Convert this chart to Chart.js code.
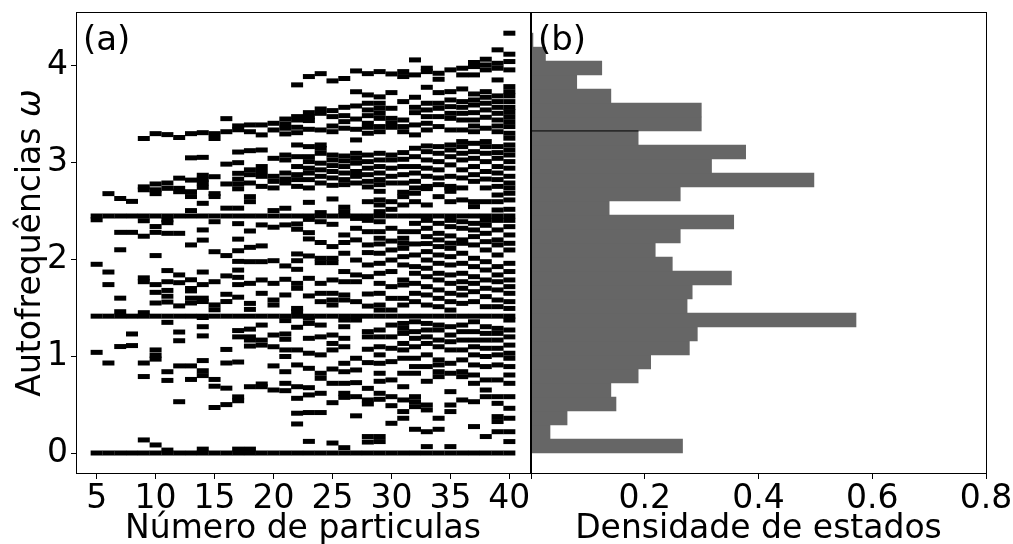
<!DOCTYPE html>
<html><head><meta charset="utf-8">
<script src="https://cdn.jsdelivr.net/npm/chart.js@4.4.1/dist/chart.umd.min.js"></script>
<style>
html,body{margin:0;padding:0;background:#fff;overflow:hidden;}
#wrap{position:relative;width:1013px;height:544px;background:#fff;}
canvas{position:absolute;left:0;top:0;}
</style></head><body>
<div id="wrap"><canvas id="ca" width="1013" height="544"></canvas><canvas id="cb" width="1013" height="544"></canvas></div>
<script>
// ---- Panel (a): eigenfrequencies for each particle number ----
const particleCounts = [5,6,7,8,9,10,11,12,13,14,15,16,17,18,19,20,21,22,23,24,25,26,27,28,29,30,31,32,33,34,35,36,37,38,39,40];
const omega05 = [0, 1.04, 1.414, 1.95, 2.41, 2.449];
const omega06 = [0, 0.93, 1.414, 1.74, 1.87, 2.449, 2.68];
const omega07 = [0, 1.10, 1.414, 1.46, 1.60, 2.10, 2.28, 2.449, 2.63];
const omega08 = [0, 1.11, 1.23, 1.414, 2.28, 2.449, 2.60];
const omega09 = [0, 0.135, 0.79, 0.93, 1.414, 1.45, 1.77, 1.81, 2.24, 2.40, 2.449, 2.72, 2.75, 3.25];
const omega10 = [0, 0.083, 0.97, 1.01, 1.065, 1.414, 1.55, 1.66, 1.74, 2.04, 2.28, 2.34, 2.449, 2.68, 2.72, 2.78, 3.30];
const omega11 = [0, 0.03, 0.75, 0.84, 1.35, 1.414, 1.56, 1.62, 1.68, 1.77, 1.885, 2.27, 2.38, 2.41, 2.449, 2.735, 2.79, 3.29];
const omega12 = [0, 0.53, 0.90, 1.16, 1.25, 1.414, 1.52, 1.76, 1.84, 2.27, 2.449, 2.70, 2.735, 2.84, 3.26];
const omega13 = [0, 0.76, 0.90, 1.414, 1.55, 1.60, 1.675, 1.70, 1.79, 2.15, 2.449, 2.505, 2.65, 2.70, 2.82, 3.05, 3.30];
const omega14 = [0, 0.04, 0.80, 0.85, 0.955, 1.21, 1.305, 1.40, 1.414, 1.565, 1.60, 1.74, 1.87, 2.20, 2.305, 2.449, 2.58, 2.745, 2.79, 2.83, 2.87, 3.055, 3.31];
const omega15 = [0, 0.47, 0.69, 0.76, 1.414, 1.48, 1.53, 1.77, 2.08, 2.39, 2.449, 2.65, 2.68, 2.855, 3.25, 3.30];
const omega16 = [0, 0.50, 0.67, 0.93, 1.07, 1.414, 1.565, 1.64, 1.83, 2.04, 2.449, 2.53, 2.78, 2.985, 3.32, 3.455];
const omega17 = [0, 0.04, 0.54, 0.58, 0.94, 1.20, 1.265, 1.414, 1.61, 1.74, 1.815, 1.89, 1.98, 2.09, 2.21, 2.37, 2.449, 2.53, 2.73, 2.78, 2.83, 2.89, 3.00, 3.11, 3.34, 3.38];
const omega18 = [0, 0.04, 0.685, 1.105, 1.167, 1.20, 1.28, 1.414, 1.484, 1.546, 1.753, 1.977, 2.125, 2.294, 2.449, 2.597, 2.649, 2.79, 2.876, 2.926, 3.124, 3.32, 3.39];
const omega19 = [0, 0.685, 0.713, 1.115, 1.167, 1.322, 1.414, 1.65, 1.788, 1.977, 2.14, 2.357, 2.449, 2.755, 2.859, 2.909, 2.96, 3.131, 3.287, 3.39];
const omega20 = [0, 0.651, 0.90, 1.098, 1.219, 1.414, 1.529, 1.581, 1.753, 1.987, 2.333, 2.449, 2.505, 2.739, 2.807, 2.859, 3.045, 3.338, 3.407];
const omega21 = [0, 0.644, 0.72, 0.84, 0.997, 1.065, 1.175, 1.23, 1.368, 1.414, 1.633, 1.795, 1.933, 2.357, 2.449, 2.529, 2.79, 2.831, 2.893, 3.028, 3.079, 3.297, 3.356, 3.40, 3.451];
const omega22 = [0, 0.30, 0.411, 0.565, 0.685, 0.91, 1.065, 1.299, 1.414, 1.46, 1.494, 1.702, 1.753, 1.898, 1.987, 2.057, 2.312, 2.367, 2.449, 2.755, 2.825, 2.876, 2.96, 3.062, 3.183, 3.31, 3.366, 3.441, 3.476, 3.804];
const omega23 = [0, 0.12, 0.418, 0.60, 0.675, 0.875, 1.031, 1.185, 1.339, 1.393, 1.414, 1.623, 1.805, 2.036, 2.212, 2.277, 2.414, 2.449, 2.59, 2.739, 2.825, 2.893, 2.943, 3.011, 3.062, 3.166, 3.345, 3.435, 3.476, 3.517, 3.89];
const omega24 = [0, 0.418, 0.617, 0.772, 0.824, 1.014, 1.20, 1.322, 1.414, 1.564, 1.65, 1.753, 1.967, 2.012, 2.175, 2.39, 2.449, 2.484, 2.79, 2.859, 2.926, 2.995, 3.097, 3.148, 3.183, 3.338, 3.51, 3.555, 3.92];
const omega25 = [0, 0.103, 0.52, 0.72, 0.868, 1.065, 1.132, 1.219, 1.414, 1.529, 1.581, 1.65, 1.788, 1.967, 2.012, 2.133, 2.363, 2.449, 2.625, 2.766, 2.842, 2.909, 2.97, 3.028, 3.079, 3.32, 3.379, 3.476, 3.538, 3.845];
const omega26 = [0, 0.055, 0.575, 0.617, 0.72, 0.84, 0.927, 1.098, 1.185, 1.305, 1.374, 1.414, 1.581, 1.633, 1.77, 1.875, 2.064, 2.175, 2.253, 2.449, 2.494, 2.54, 2.773, 2.825, 2.893, 2.96, 3.018, 3.069, 3.356, 3.424, 3.486, 3.572, 3.87];
const omega27 = [0, 0.384, 0.582, 0.727, 0.858, 0.979, 1.374, 1.414, 1.564, 1.77, 1.84, 1.994, 2.202, 2.322, 2.424, 2.449, 2.79, 2.859, 2.909, 2.995, 3.045, 3.097, 3.235, 3.345, 3.451, 3.586, 3.733, 3.948];
const omega28 = [0, 0.113, 0.17, 0.507, 0.548, 0.668, 0.934, 1.072, 1.20, 1.254, 1.414, 1.518, 1.643, 1.822, 1.943, 2.071, 2.15, 2.287, 2.404, 2.449, 2.597, 2.749, 2.807, 2.876, 2.943, 3.011, 3.079, 3.304, 3.366, 3.407, 3.486, 3.545, 3.614, 3.70, 3.92];
const omega29 = [0, 0.118, 0.17, 0.555, 0.617, 0.741, 0.824, 0.927, 1.014, 1.098, 1.20, 1.271, 1.414, 1.477, 1.529, 1.65, 1.753, 1.857, 1.96, 2.064, 2.16, 2.219, 2.287, 2.39, 2.449, 2.494, 2.563, 2.615, 2.704, 2.773, 2.825, 2.893, 2.96, 3.028, 3.097, 3.32, 3.373, 3.458, 3.51, 3.562, 3.614, 3.68, 3.941];
const omega30 = [0, 0.307, 0.489, 0.582, 0.755, 0.944, 1.082, 1.20, 1.322, 1.414, 1.477, 1.598, 1.719, 1.875, 1.994, 2.098, 2.19, 2.322, 2.449, 2.518, 2.597, 2.79, 2.859, 2.943, 3.028, 3.079, 3.366, 3.407, 3.458, 3.562, 3.724, 3.917];
const omega31 = [0, 0.359, 0.428, 0.548, 0.685, 0.824, 0.979, 1.065, 1.132, 1.236, 1.288, 1.339, 1.414, 1.529, 1.598, 1.736, 1.788, 1.943, 2.029, 2.115, 2.167, 2.219, 2.287, 2.449, 2.563, 2.649, 2.694, 2.79, 2.876, 2.96, 3.035, 3.104, 3.32, 3.373, 3.441, 3.631, 3.89, 3.941];
const omega32 = [0, 0.245, 0.479, 0.53, 0.582, 0.824, 0.893, 0.979, 1.098, 1.185, 1.254, 1.356, 1.414, 1.564, 1.65, 1.753, 1.857, 1.926, 2.046, 2.16, 2.287, 2.373, 2.449, 2.597, 2.684, 2.739, 2.807, 2.893, 2.96, 3.062, 3.149, 3.287, 3.39, 3.517, 3.572, 3.676, 3.907, 4.062];
const omega33 = [0, 0.066, 0.22, 0.445, 0.496, 0.741, 0.893, 1.014, 1.132, 1.20, 1.271, 1.339, 1.414, 1.529, 1.633, 1.719, 1.822, 1.909, 1.994, 2.081, 2.164, 2.236, 2.322, 2.404, 2.449, 2.563, 2.732, 2.755, 2.859, 2.943, 3.028, 3.114, 3.173, 3.338, 3.407, 3.476, 3.545, 3.614, 3.779, 3.941, 3.976];
const omega34 = [0, 0.245, 0.359, 0.789, 0.84, 0.91, 0.962, 1.098, 1.167, 1.271, 1.322, 1.414, 1.512, 1.598, 1.685, 1.788, 1.857, 1.96, 2.046, 2.133, 2.202, 2.27, 2.373, 2.449, 2.649, 2.773, 2.842, 2.926, 3.011, 3.097, 3.166, 3.373, 3.476, 3.562, 3.614, 3.724, 3.862, 3.924];
const omega35 = [0, 0.066, 0.428, 0.496, 0.634, 0.824, 0.927, 1.065, 1.15, 1.219, 1.305, 1.414, 1.477, 1.564, 1.65, 1.753, 1.84, 1.943, 2.029, 2.115, 2.168, 2.243, 2.339, 2.404, 2.449, 2.597, 2.704, 2.739, 2.755, 2.859, 2.977, 3.062, 3.131, 3.183, 3.338, 3.458, 3.51, 3.579, 3.648, 3.734, 3.959];
const omega36 = [0, 0.548, 0.789, 0.84, 0.962, 1.065, 1.167, 1.254, 1.322, 1.414, 1.546, 1.633, 1.702, 1.77, 1.857, 1.96, 2.064, 2.167, 2.202, 2.322, 2.39, 2.449, 2.615, 2.739, 2.842, 2.926, 3.028, 3.097, 3.166, 3.218, 3.338, 3.441, 3.51, 3.572, 3.631, 3.762, 3.907, 3.976];
const omega37 = [0, 0.273, 0.53, 0.72, 0.806, 0.91, 1.014, 1.098, 1.167, 1.254, 1.356, 1.414, 1.564, 1.667, 1.753, 1.822, 1.926, 2.012, 2.15, 2.236, 2.305, 2.373, 2.449, 2.546, 2.597, 2.807, 2.876, 2.96, 3.045, 3.114, 3.20, 3.32, 3.379, 3.441, 3.517, 3.596, 3.648, 3.71, 3.907, 3.993, 4.035];
const omega38 = [0, 0.17, 0.582, 0.651, 0.755, 0.893, 0.997, 1.082, 1.167, 1.236, 1.305, 1.414, 1.512, 1.616, 1.702, 1.788, 1.891, 1.977, 2.098, 2.184, 2.27, 2.353, 2.404, 2.449, 2.597, 2.739, 2.831, 2.909, 3.011, 3.097, 3.166, 3.218, 3.356, 3.469, 3.545, 3.614, 3.676, 3.734, 3.959, 4.01, 4.069];
const omega39 = [0, 0.22, 0.325, 0.376, 0.513, 0.582, 0.755, 0.91, 1.014, 1.082, 1.167, 1.236, 1.288, 1.414, 1.512, 1.581, 1.685, 1.77, 1.84, 1.926, 2.046, 2.15, 2.202, 2.305, 2.404, 2.449, 2.511, 2.597, 2.666, 2.755, 2.825, 2.893, 2.96, 3.045, 3.104, 3.166, 3.32, 3.379, 3.441, 3.51, 3.572, 3.631, 3.69, 3.855, 3.976, 4.027, 4.166];
const omega40 = [0, 0.118, 0.22, 0.359, 0.462, 0.582, 0.72, 0.806, 0.893, 0.979, 1.031, 1.115, 1.20, 1.271, 1.374, 1.414, 1.494, 1.564, 1.65, 1.719, 1.788, 1.875, 1.96, 2.098, 2.167, 2.253, 2.339, 2.404, 2.449, 2.518, 2.615, 2.684, 2.739, 2.79, 2.859, 2.943, 3.011, 3.079, 3.131, 3.183, 3.253, 3.304, 3.373, 3.424, 3.476, 3.527, 3.572, 3.631, 3.69, 3.734, 3.786, 3.959, 4.045, 4.121, 4.338];
const omegaColumns = [omega05, omega06, omega07, omega08, omega09, omega10, omega11, omega12, omega13, omega14, omega15, omega16, omega17, omega18, omega19, omega20, omega21, omega22, omega23, omega24, omega25, omega26, omega27, omega28, omega29, omega30, omega31, omega32, omega33, omega34, omega35, omega36, omega37, omega38, omega39, omega40];
const xTicksA = [5, 10, 15, 20, 25, 30, 35, 40];
const yTicks = [0, 1, 2, 3, 4];

// ---- Panel (b): density of states histogram ----
const dosOmega = [0.0723, 0.2170, 0.3617, 0.5063, 0.6510, 0.7957, 0.9403, 1.0850, 1.2297, 1.3743, 1.5190, 1.6637, 1.8083, 1.9530, 2.0977, 2.2423, 2.3870, 2.5317, 2.6763, 2.8210, 2.9657, 3.1103, 3.2550, 3.3997, 3.5443, 3.6890, 3.8337, 3.9783, 4.1230, 4.2677];
const dosValue = [0.267, 0.034, 0.064, 0.150, 0.141, 0.189, 0.211, 0.279, 0.293, 0.572, 0.275, 0.284, 0.353, 0.249, 0.219, 0.263, 0.357, 0.138, 0.263, 0.498, 0.318, 0.378, 0.189, 0.300, 0.300, 0.141, 0.081, 0.125, 0.026, 0.004];
const dosMarkX = [0, 0.189];
const dosMarkY = [3.328, 3.328];
const xTicksB = [0, 0.2, 0.4, 0.6, 0.8];

const xLabelA = 'Número de particulas';
const xLabelB = 'Densidade de estados';
const yLabelText = 'Autofrequências ';
const yLabelSymbol = 'ω';

const FAM = '"DejaVu Sans", sans-serif';
const FS = 33;

const points = [];
particleCounts.forEach((n, i) => omegaColumns[i].forEach(w => points.push({x: n, y: w})));

const frame = {
  id: 'frame',
  afterDraw(chart) {
    const {ctx, chartArea: a} = chart;
    ctx.save();
    ctx.strokeStyle = '#000';
    ctx.lineWidth = 1;
    ctx.strokeRect(a.left + 0.5, a.top + 0.5, a.right - a.left, a.bottom - a.top - 1);
    ctx.restore();
  }
};
function panelLabel(text, dx) {
  return {
    id: 'plabel',
    afterDraw(chart) {
      const {ctx, chartArea: a} = chart;
      ctx.save();
      ctx.fillStyle = '#000';
      ctx.font = '34px ' + FAM;
      ctx.textAlign = 'left';
      ctx.textBaseline = 'alphabetic';
      ctx.fillText(text, a.left + dx, a.top + 38);
      ctx.restore();
    }
  };
}
const yTitle = {
  id: 'ytitle',
  afterDraw(chart) {
    const {ctx, chartArea: a} = chart;
    ctx.save();
    ctx.translate(31, (a.top + a.bottom) / 2);
    ctx.rotate(-Math.PI / 2);
    ctx.fillStyle = '#000';
    ctx.textBaseline = 'middle';
    ctx.textAlign = 'left';
    const f1 = FS + 'px ' + FAM, f2 = 'italic ' + FS + 'px ' + FAM;
    ctx.font = f1; const w1 = ctx.measureText(yLabelText).width;
    ctx.font = f2; const w2 = ctx.measureText(yLabelSymbol).width;
    const x0 = -(w1 + w2) / 2;
    ctx.font = f1; ctx.fillText(yLabelText, x0, 0);
    ctx.font = f2; ctx.fillText(yLabelSymbol, x0 + w1, 0);
    ctx.restore();
  }
};

const tickGrid = {display: true, drawOnChartArea: false, drawTicks: true, tickLength: 5, color: '#000', lineWidth: 1};
const tickFont = {family: FAM, size: FS};
const titleFont = {family: FAM, size: FS, lineHeight: 1};

new Chart(document.getElementById('ca'), {
  type: 'scatter',
  data: {datasets: [{
    data: points,
    pointStyle: 'line',
    pointRadius: 6,
    pointHoverRadius: 6,
    pointBorderWidth: 5,
    pointHoverBorderWidth: 5,
    pointBorderColor: '#000',
    pointBackgroundColor: '#000'
  }]},
  options: {
    responsive: false, animation: false, events: [],
    layout: {padding: {left: 0, top: 12, right: 483, bottom: 0}},
    plugins: {legend: {display: false}, tooltip: {enabled: false}},
    scales: {
      x: {
        type: 'linear', min: 3.25, max: 41.75,
        afterBuildTicks: s => { s.ticks = xTicksA.map(v => ({value: v})); },
        afterFit: s => { s.height = 70; s.paddingLeft = 0; s.paddingRight = 0; },
        grid: tickGrid, border: {display: false},
        ticks: {font: tickFont, color: '#000', padding: 1, maxRotation: 0, autoSkip: false, callback: v => String(v)},
        title: {display: true, text: xLabelA, font: titleFont, color: '#000', padding: {top: 0, bottom: -2}}
      },
      y: {
        type: 'linear', min: -0.217, max: 4.557,
        afterBuildTicks: s => { s.ticks = yTicks.map(v => ({value: v})); },
        afterFit: s => { s.width = 76; s.paddingTop = 0; s.paddingBottom = 0; },
        grid: tickGrid, border: {display: false},
        ticks: {font: tickFont, color: '#000', padding: 3, autoSkip: false, callback: v => String(v)}
      }
    }
  },
  plugins: [frame, panelLabel('(a)', 7), yTitle]
});

new Chart(document.getElementById('cb'), {
  type: 'bar',
  data: {datasets: [
    {
      type: 'bar',
      data: dosOmega.map((w, i) => ({x: dosValue[i], y: w})),
      backgroundColor: '#666666',
      borderWidth: 0,
      barPercentage: 1.03,
      categoryPercentage: 1,
      order: 2
    },
    {
      type: 'line',
      data: dosMarkX.map((x, i) => ({x: x, y: dosMarkY[i]})),
      borderColor: '#000',
      borderWidth: 1,
      pointRadius: 0,
      fill: false,
      order: 1
    }
  ]},
  options: {
    indexAxis: 'y',
    responsive: false, animation: false, events: [],
    layout: {padding: {left: 531, top: 12, right: 27, bottom: 0}},
    plugins: {legend: {display: false}, tooltip: {enabled: false}},
    scales: {
      x: {
        type: 'linear', min: 0, max: 0.8,
        afterBuildTicks: s => { s.ticks = xTicksB.map(v => ({value: v})); },
        afterFit: s => { s.height = 70; s.paddingLeft = 0; s.paddingRight = 0; },
        grid: tickGrid, border: {display: false},
        ticks: {font: tickFont, color: '#000', padding: 1, maxRotation: 0, autoSkip: false, callback: v => v === 0 ? '' : v.toFixed(1)},
        title: {display: true, text: xLabelB, font: titleFont, color: '#000', padding: {top: 0, bottom: -2}}
      },
      y: {
        type: 'linear', min: -0.217, max: 4.557, offset: false, display: false,
        grid: {offset: false}
      }
    }
  },
  plugins: [frame, panelLabel('(b)', 7)]
});
</script>
</body></html>
